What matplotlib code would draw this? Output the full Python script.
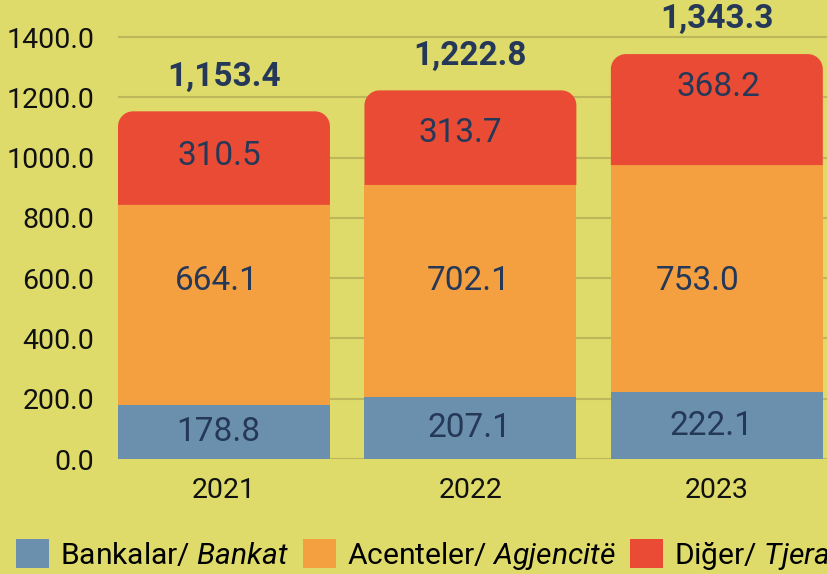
import matplotlib
matplotlib.use("Agg")
import matplotlib.pyplot as plt
from matplotlib.path import Path
from matplotlib.patches import PathPatch, Patch

plt.rcParams['font.family'] = ['Roboto', 'DejaVu Sans']
plt.rcParams['mathtext.fontset'] = 'custom'
plt.rcParams['mathtext.rm'] = 'Roboto'
plt.rcParams['mathtext.it'] = 'Roboto:italic'

years = ['2021', '2022', '2023']
bankat = [178.8, 207.1, 222.1]
agjencite = [664.1, 702.1, 753.0]
tjera = [310.5, 313.7, 368.2]
totals = [1153.4, 1222.8, 1343.3]
series_labels = ['Bankalar/ $\\it{Bankat}$', 'Acenteler/ $\\it{Agjencitë}$', 'Diğer/ $\\it{Tjera}$']
yticks = [0, 200, 400, 600, 800, 1000, 1200, 1400]

BG = '#dedb6a'
C_BLUE = '#6a90ad'
C_ORANGE = '#f5a040'
C_RED = '#e94b35'
C_TXT = '#253858'
GRID = '#bdb75c'

W, H, DPI = 827, 574, 100
fig = plt.figure(figsize=(W / DPI, H / DPI), dpi=DPI, facecolor=BG)
ax = fig.add_axes([118 / W, 1 - 459 / H, 1 - 118 / W, 459 / H])
ax.set_facecolor(BG)
ymax = 1400 + 37 * 1400 / 422.0
ax.set_xlim(-0.43, 2.447)
ax.set_ylim(0, ymax)

for s in ax.spines.values():
    s.set_visible(False)
ax.set_yticks(yticks)
ax.set_yticklabels([f'{v:.1f}' for v in yticks], fontsize=20.5, color='#111111')
ax.set_xticks(range(len(years)))
ax.set_xticklabels(years, fontsize=20.5, color='#111111')
ax.tick_params(axis='both', length=0)
ax.tick_params(axis='y', pad=17)
ax.tick_params(axis='x', pad=13)
ax.set_axisbelow(True)
ax.grid(axis='y', color=GRID, linewidth=1.5)

bw = 0.86
x = list(range(len(years)))
ax.bar(x, bankat, width=bw, color=C_BLUE, zorder=2)
bottoms2 = bankat
ax.bar(x, agjencite, width=bw, bottom=bottoms2, color=C_ORANGE, zorder=2)
bottoms3 = [a + b for a, b in zip(bankat, agjencite)]

# rounded-top segment for the last series
axw_px = W * (1 - 118 / W)
axh_px = 459
px_per_x = axw_px / (2.447 + 0.43)
px_per_y = axh_px / ymax
r_px = 15
rx = r_px / px_per_x
ry = r_px / px_per_y
k = 0.5523
for xi, b, h in zip(x, bottoms3, tjera):
    x0, x1 = xi - bw / 2, xi + bw / 2
    y0, y1 = b, b + h
    verts = [
        (x0, y0), (x1, y0), (x1, y1 - ry),
        (x1, y1 - ry + k * ry), (x1 - rx + k * rx, y1), (x1 - rx, y1),
        (x0 + rx, y1),
        (x0 + rx - k * rx, y1), (x0, y1 - ry + k * ry), (x0, y1 - ry),
        (x0, y0),
    ]
    codes = [Path.MOVETO, Path.LINETO, Path.LINETO,
             Path.CURVE4, Path.CURVE4, Path.CURVE4,
             Path.LINETO,
             Path.CURVE4, Path.CURVE4, Path.CURVE4,
             Path.CLOSEPOLY]
    ax.add_patch(PathPatch(Path(verts, codes), facecolor=C_RED, edgecolor='none', zorder=2))

# label nudges (points) as placed in the original
dx_blue = [-4, -1, -4]
dx_orange = [-5, -1.5, -14]
dx_red = [-3, -7, 1]
dy_red = [1.5, 3.5, 16]
orange_label_y = 590

def seg_label(xi, y, val, dx, dy=0):
    ax.annotate(f'{val:.1f}', xy=(xi, y), xytext=(dx, dy), textcoords='offset points',
                ha='center', va='center', fontsize=24, color=C_TXT, zorder=3)

for xi in x:
    seg_label(xi, bankat[xi] / 2, bankat[xi], dx_blue[xi])
    seg_label(xi, orange_label_y, agjencite[xi], dx_orange[xi])
    seg_label(xi, bottoms3[xi] + tjera[xi] / 2, tjera[xi], dx_red[xi], dy_red[xi])
    ax.annotate(f'{totals[xi]:,.1f}', xy=(xi, totals[xi]), xytext=(0, 25),
                textcoords='offset points', ha='center', va='center',
                fontsize=24, fontweight='bold', color=C_TXT, zorder=3,
                annotation_clip=False)

handles = [Patch(facecolor=c, edgecolor='none') for c in (C_BLUE, C_ORANGE, C_RED)]
fig.legend(handles, series_labels, loc='lower left', bbox_to_anchor=(16 / W, 2 / H),
           ncol=3, frameon=False, fontsize=21.6, handlelength=1.1, handleheight=1.1,
           handletextpad=0.38, columnspacing=0.45, borderpad=0, borderaxespad=0)

fig.savefig('out.png', dpi=DPI, facecolor=BG)
